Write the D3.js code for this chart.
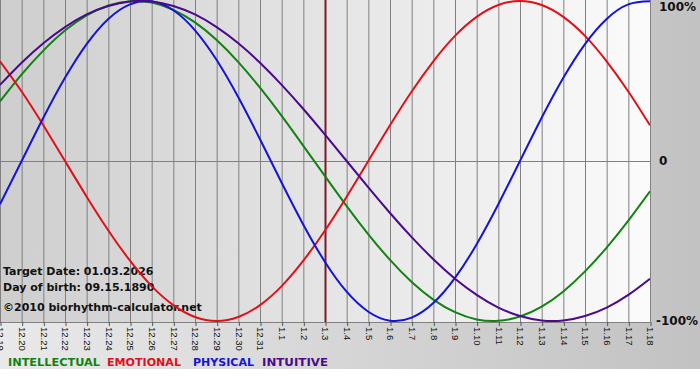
<!DOCTYPE html>
<html><head><meta charset="utf-8">
<script src="https://cdn.jsdelivr.net/npm/d3@7"></script>
<style>html,body{margin:0;padding:0;background:#fff;}svg{display:block;}</style>
</head><body>
<svg id="c" width="700" height="380"></svg>
<script>
const days = ["12.19","12.20","12.21","12.22","12.23","12.24","12.25","12.26","12.27","12.28","12.29","12.30","12.31","1.1","1.2","1.3","1.4","1.5","1.6","1.7","1.8","1.9","1.10","1.11","1.12","1.13","1.14","1.15","1.16","1.17","1.18"];
const physical = [-0.270,0,0.270,0.520,0.731,0.888,0.979,0.998,0.942,0.817,0.631,0.398,0.136,-0.136,-0.398,-0.631,-0.817,-0.942,-0.998,-0.979,-0.888,-0.731,-0.520,-0.270,0,0.270,0.520,0.731,0.888,0.979,0.998];
const emotional = [0.623,0.434,0.223,0,-0.223,-0.434,-0.623,-0.782,-0.901,-0.975,-1,-0.975,-0.901,-0.782,-0.623,-0.434,-0.223,0,0.223,0.434,0.623,0.782,0.901,0.975,1,0.975,0.901,0.782,0.623,0.434,0.223];
const intellectual = [0.372,0.541,0.690,0.815,0.910,0.972,0.999,0.990,0.945,0.866,0.756,0.618,0.458,0.282,0.095,-0.095,-0.282,-0.458,-0.618,-0.756,-0.866,-0.945,-0.990,-0.999,-0.972,-0.910,-0.815,-0.690,-0.541,-0.372,-0.189];
const intuitive = [0.476,0.614,0.736,0.837,0.916,0.969,0.997,0.997,0.969,0.916,0.837,0.736,0.614,0.476,0.325,0.165,0,-0.165,-0.325,-0.476,-0.614,-0.736,-0.837,-0.916,-0.969,-0.997,-0.997,-0.969,-0.916,-0.837,-0.736];
const yTicks = [1, 0, -1];
const yTickLabels = ["100%","0","-100%"];
const targetDay = "1.3";
const infoLines = ["Target Date: 01.03.2026","Day of birth: 09.15.1890","©2010 biorhythm-calculator.net"];
const legend = [
  {name:"INTELLECTUAL", data: intellectual, color:"#128212"},
  {name:"EMOTIONAL", data: emotional, color:"#e0101a"},
  {name:"PHYSICAL", data: physical, color:"#1414d8"},
  {name:"INTUITIVE", data: intuitive, color:"#4a0a8a"}
];

const svg = d3.select("#c");
const W = 700, PL = 0, PR = 650, PT = 0, PB = 322;
const defs = svg.append("defs");
const g1 = defs.append("linearGradient").attr("id","frameGrad").attr("x1","0").attr("x2","1").attr("y1","0").attr("y2","0");
g1.append("stop").attr("offset","0").attr("stop-color","#e9e9e9");
g1.append("stop").attr("offset","1").attr("stop-color","#c2c2c2");
const g2 = defs.append("linearGradient").attr("id","plotGrad").attr("x1","0").attr("x2","1").attr("y1","0").attr("y2","0");
g2.append("stop").attr("offset","0").attr("stop-color","#cecece");
g2.append("stop").attr("offset","1").attr("stop-color","#fbfbfb");
defs.append("clipPath").attr("id","pc").append("rect").attr("x",PL).attr("y",PT-2).attr("width",PR-PL).attr("height",PB-PT+4);

svg.append("rect").attr("x",0).attr("y",0).attr("width",W).attr("height",369).attr("fill","url(#frameGrad)");
svg.append("rect").attr("x",PL).attr("y",PT).attr("width",PR-PL).attr("height",PB-PT).attr("fill","url(#plotGrad)");

const x = d3.scalePoint().domain(days).range([PL, PR]);
const y = d3.scaleLinear().domain([-1, 1]).range([PB - 1, PT + 1]);

svg.append("g").selectAll("line").data(days).join("line")
  .attr("x1", d => x(d) + 0.5).attr("x2", d => x(d) + 0.5)
  .attr("y1", PT).attr("y2", PB)
  .attr("stroke", "#808080").attr("stroke-width", 1);
svg.append("line").attr("x1",PL).attr("x2",PR).attr("y1",Math.round(y(0))+0.5).attr("y2",Math.round(y(0))+0.5).attr("stroke","#808080");
svg.append("line").attr("x1",PL).attr("x2",PR).attr("y1",PB+0.5).attr("y2",PB+0.5).attr("stroke","#808080");

svg.append("g").selectAll("text").data(infoLines).join("text")
  .attr("x", 3).attr("y", (d,i) => [275, 291, 311][i])
  .attr("font-family","DejaVu Sans, Verdana, sans-serif").attr("font-weight","bold").attr("font-size", 11)
  .attr("fill","#111").text(d => d);

svg.append("line").attr("x1", x(targetDay)+0.5).attr("x2", x(targetDay)+0.5).attr("y1", PT).attr("y2", PB)
  .attr("stroke", "#7d1a26").attr("stroke-width", 2);

const line = d3.line().x((d,i) => x(days[i])).y(d => y(d)).curve(d3.curveNatural);
const cg = svg.append("g").attr("clip-path","url(#pc)");
legend.forEach(s => {
  cg.append("path").attr("d", line(s.data)).attr("fill","none").attr("stroke", s.color).attr("stroke-width", 2);
});

const xAxis = d3.axisBottom(x).tickSize(4).tickPadding(2);
const ax = svg.append("g").attr("transform", `translate(0,${PB})`).call(xAxis);
ax.select(".domain").remove();
ax.selectAll(".tick line").attr("stroke","#555").attr("transform","translate(0.5,0)");
ax.selectAll(".tick text")
  .attr("font-family","Liberation Sans, Arial, sans-serif").attr("font-size", 9.5).attr("fill","#111")
  .attr("transform","rotate(90)").attr("x", 5).attr("y", 0).attr("dy","0.35em").attr("text-anchor","start");

svg.append("g").selectAll("text").data(yTicks).join("text")
  .attr("x", (d,i) => [659, 659, 656][i]).attr("y", d => Math.max(7, y(d)))
  .attr("dy","0.35em")
  .attr("font-family","DejaVu Sans, Verdana, sans-serif").attr("font-weight","bold").attr("font-size", 12)
  .attr("fill","#111").text((d,i) => yTickLabels[i]);

const lx0 = [8, 107, 193, 262];
const lw = [92, 74, 61, 66];
const lg = svg.append("g");
legend.forEach((s,i) => {
  lg.append("text").attr("x", lx0[i]).attr("y", 366)
    .attr("font-family","DejaVu Sans, Verdana, sans-serif").attr("font-weight","bold").attr("font-size", 11)
    .attr("textLength", lw[i]).attr("lengthAdjust","spacingAndGlyphs")
    .attr("fill", s.color).text(s.name);
});
</script>
</body></html>
